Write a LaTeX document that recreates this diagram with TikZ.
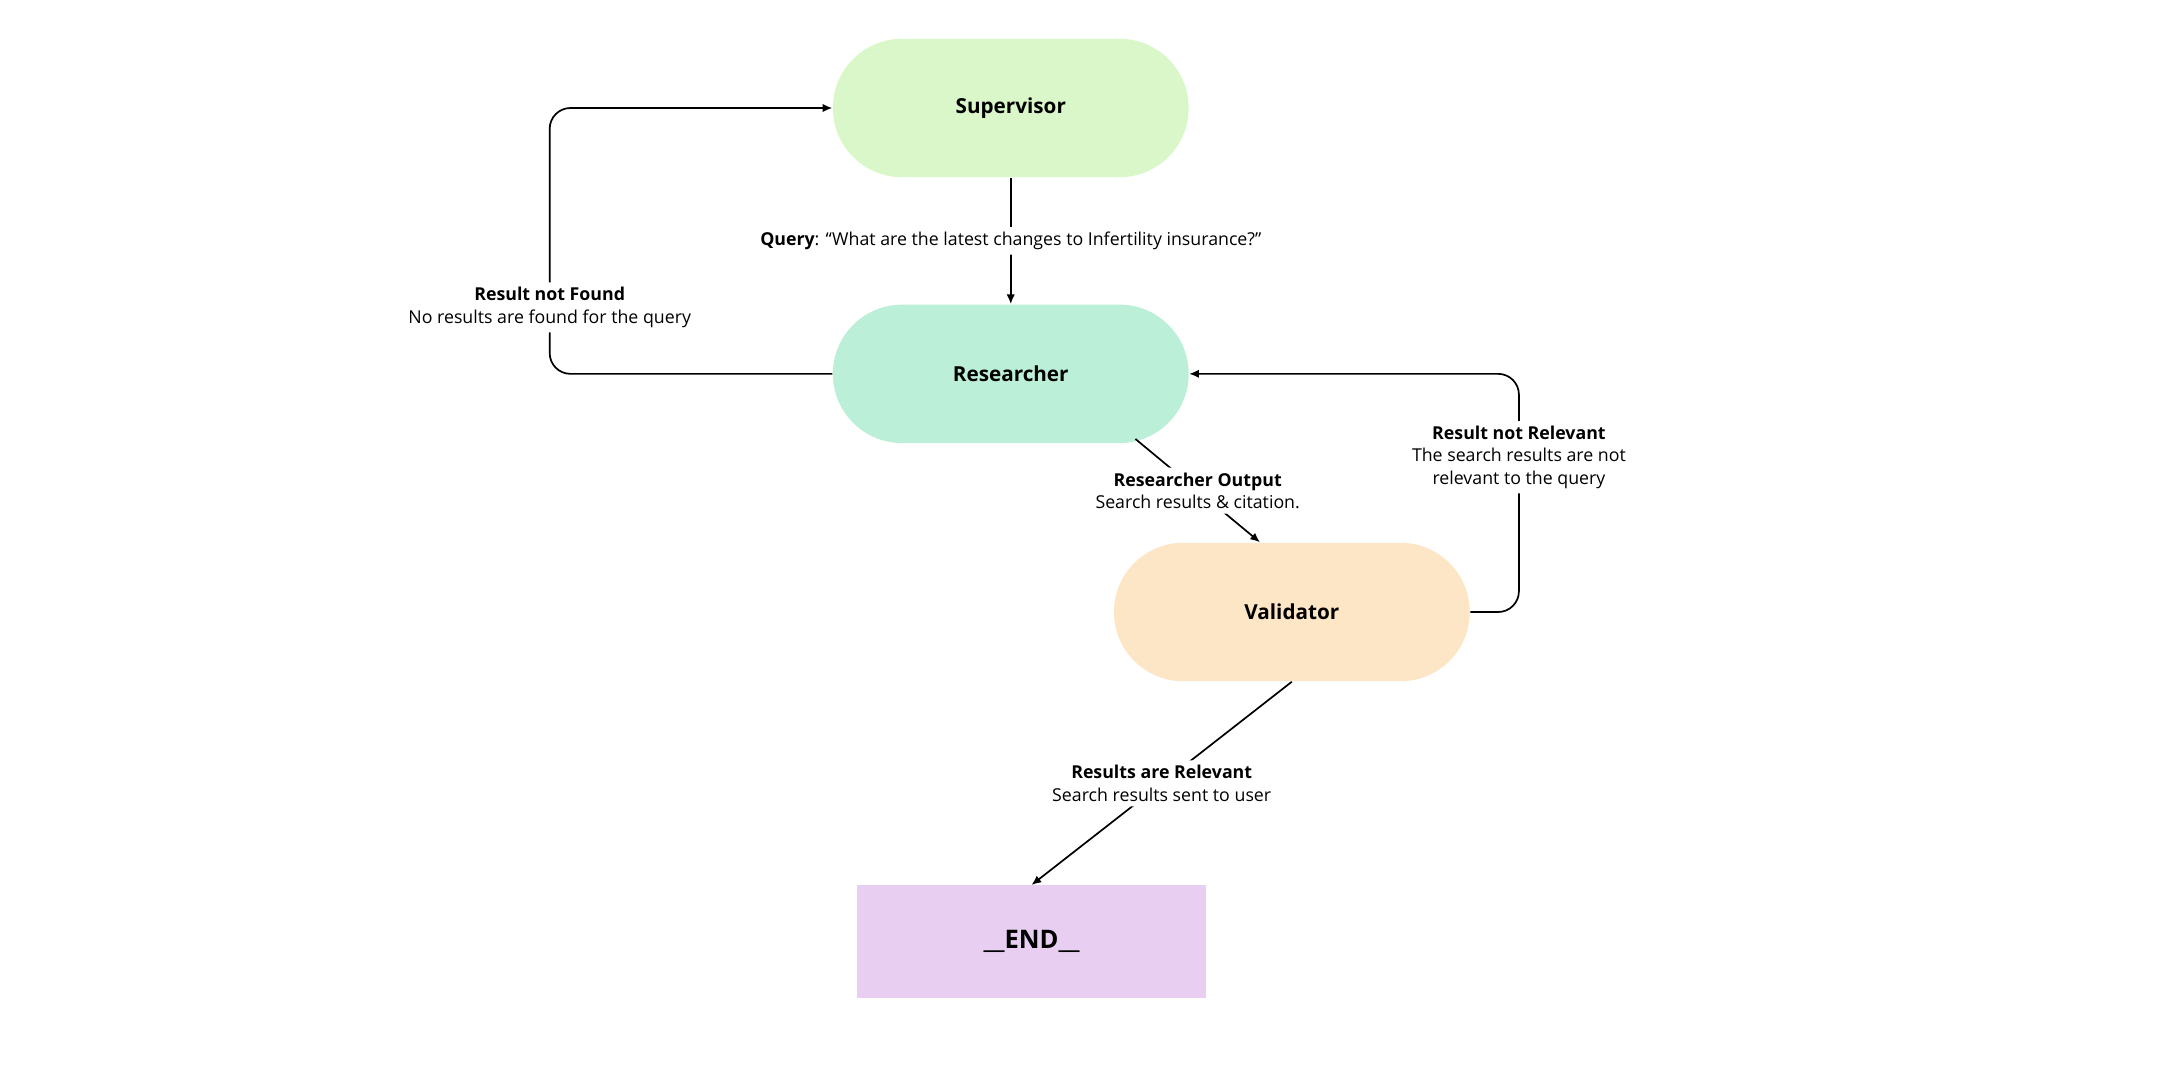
\documentclass[tikz,border=0pt]{standalone}
\usepackage{fontspec}
\setmainfont{Open Sans}
\usepackage{xcolor}
\usetikzlibrary{arrows.meta, positioning, calc}
\definecolor{supcol}{HTML}{D9F7C9}
\definecolor{rescol}{HTML}{BBEFD8}
\definecolor{valcol}{HTML}{FDE6C6}
\definecolor{endcol}{HTML}{E8CFF1}
\tikzset{
  agent/.style={rectangle, rounded corners=10mm, minimum width=51.4mm, minimum height=20mm, text centered, font=\fontsize{8.5}{10}\selectfont\bfseries},
  final/.style={rectangle, minimum width=50.4mm, minimum height=16.2mm, fill=endcol, text centered, font=\fontsize{10.5}{12}\selectfont\bfseries},
  lbl/.style={fill=white, align=center, inner sep=2pt, font=\fontsize{7.3}{9.2}\selectfont},
  arrow/.style={line width=0.7pt,-{Latex[length=1.4mm,width=1.2mm]}, rounded corners=3mm}
}
\begin{document}
\begin{tikzpicture}[x=0.2mm, y=-0.2mm]
\useasboundingbox (0,0) rectangle (1560,780);

% Agents
\node (sup) [agent, fill=supcol] at (730,78) {Supervisor};
\node (res) [agent, fill=rescol] at (730,270) {Researcher};
\node (val) [agent, fill=valcol] at (933,442) {Validator};
\node (end) [final] at (745,680) {\_\_END\_\_};

% Transitions
\draw [arrow] (sup) -- node[lbl] {\textbf{Query}: “What are the latest changes to Infertility insurance?”} (res);
\draw [arrow] (res.west) -- (397,270) -- node[lbl, pos=0.25] {\textbf{Result not Found}\\No results are found for the query} (397,78) -- (sup.west);
\draw [arrow] (val.east) -- (1097,442) -- node[lbl, pos=0.65] {\textbf{Result not Relevant}\\The search results are not\\relevant to the query} (1097,270) -- (res.east);
\draw [arrow] (820,317) -- node[lbl] {\textbf{Researcher Output}\\Search results \& citation.} (val.north west -| 910,0);
\draw [arrow] (val.south) -- node[lbl] {\textbf{Results are Relevant}\\Search results sent to user} (end.north);

\end{tikzpicture}
\end{document}
